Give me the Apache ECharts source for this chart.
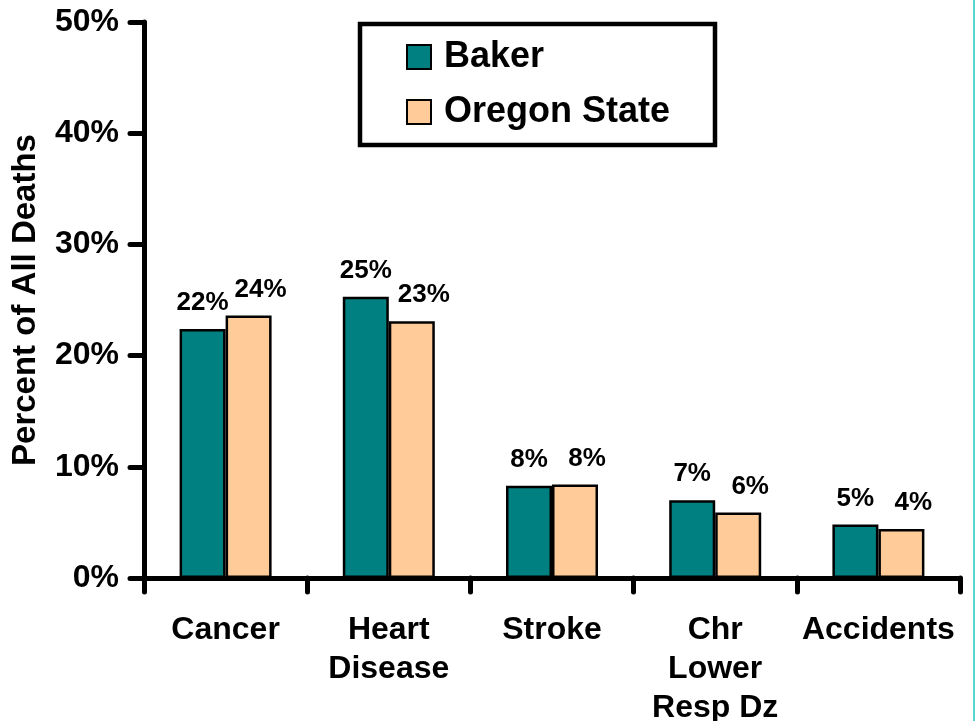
<!DOCTYPE html>
<html>
<head>
<meta charset="utf-8">
<script src="https://cdn.jsdelivr.net/npm/echarts@6/dist/echarts.min.js"></script>
<style>
html,body{margin:0;padding:0;background:#fff;}
#chart{width:975px;height:721px;}
</style>
</head>
<body>
<div id="chart"></div>
<script>
const categories = ['Cancer', 'Heart\nDisease', 'Stroke', 'Chr\nLower\nResp Dz', 'Accidents'];
const bakerValues = [22.4, 25.3, 8.3, 7.0, 4.8];
const oregonValues = [23.6, 23.1, 8.4, 5.9, 4.4];
const bakerLabels = ['22%', '25%', '8%', '7%', '5%'];
const oregonLabels = ['24%', '23%', '8%', '6%', '4%'];
const seriesNames = ['Baker', 'Oregon State'];
const yTicks = { min: 0, max: 50, interval: 10 };

const FONT = '"Liberation Sans", Arial, sans-serif';
const chart = echarts.init(document.getElementById('chart'), null, { renderer: 'canvas' });

const axisLine = { show: true, lineStyle: { color: '#000', width: 5, cap: 'round' } };
const axisTick = { show: true, length: 14, lineStyle: { color: '#000', width: 5, cap: 'round' } };

chart.setOption({
  animation: false,
  backgroundColor: '#fff',
  grid: { left: 144, right: 15, top: 22, bottom: 143, containLabel: false, outerBoundsMode: 'none' },
  graphic: [
    { type: 'rect', shape: { x: 360, y: 24, width: 355, height: 121 }, style: { fill: '#fff', stroke: '#000', lineWidth: 4.5 }, z: 10 },
    { type: 'rect', shape: { x: 973, y: 0, width: 2, height: 721 }, style: { fill: '#55D6CF' }, z: 10 }
  ],
  legend: {
    orient: 'vertical',
    left: 406,
    top: 39,
    z: 20,
    padding: 0,
    icon: 'rect',
    itemWidth: 24,
    itemHeight: 24,
    itemGap: 19,
    data: seriesNames,
    textStyle: { fontFamily: FONT, fontWeight: 'bold', fontSize: 36, lineHeight: 36, color: '#000', padding: [0, 0, 0, 8] }
  },
  xAxis: {
    type: 'category',
    data: categories,
    axisLine: axisLine,
    axisTick: Object.assign({ interval: 0 }, axisTick),
    axisLabel: { interval: 0, margin: 33, fontFamily: FONT, fontWeight: 'bold', fontSize: 32, lineHeight: 39, color: '#000' }
  },
  yAxis: {
    type: 'value',
    min: yTicks.min, max: yTicks.max, interval: yTicks.interval,
    name: 'Percent of All Deaths',
    nameLocation: 'middle',
    nameGap: 102,
    nameTextStyle: { fontFamily: FONT, fontWeight: 'bold', fontSize: 33, color: '#000' },
    axisLine: axisLine,
    axisTick: axisTick,
    splitLine: { show: false },
    axisLabel: { margin: 25, formatter: '{value}%', fontFamily: FONT, fontWeight: 'bold', fontSize: 32, color: '#000' }
  },
  series: [
    {
      name: seriesNames[0], type: 'bar', data: bakerValues,
      barWidth: 46, barGap: '0%',
      itemStyle: { color: '#008080', borderColor: '#000', borderWidth: 2.5 },
      label: { show: true, position: 'top', distance: 13, formatter: p => bakerLabels[p.dataIndex],
               fontFamily: FONT, fontWeight: 'bold', fontSize: 26, color: '#000' }
    },
    {
      name: seriesNames[1], type: 'bar', data: oregonValues,
      barWidth: 46, barGap: '0%',
      itemStyle: { color: '#FFCC99', borderColor: '#000', borderWidth: 2.5 },
      label: { show: true, position: 'top', distance: 13, offset: [12, 0], formatter: p => oregonLabels[p.dataIndex],
               fontFamily: FONT, fontWeight: 'bold', fontSize: 26, color: '#000' }
    }
  ]
});
</script>
</body>
</html>
